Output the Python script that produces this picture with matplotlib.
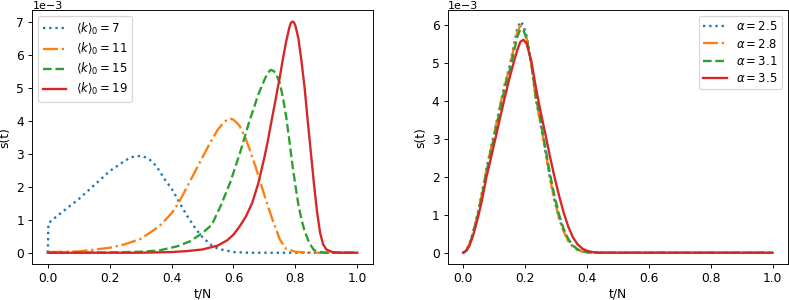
import matplotlib
matplotlib.use("Agg")
import matplotlib.pyplot as plt
import matplotlib.transforms as mtransforms
import numpy as np

# ---------------- Left panel data (values in units of 1e-3) ----------------
k_labels = [r'$\langle k\rangle_0=7$', r'$\langle k\rangle_0=11$',
            r'$\langle k\rangle_0=15$', r'$\langle k\rangle_0=19$']

t_k7 = [0, 0.002, 0.04, 0.1, 0.15, 0.2, 0.25, 0.27, 0.29, 0.31, 0.33, 0.35, 0.38, 0.4,
        0.43, 0.45, 0.48, 0.5, 0.53, 0.55, 0.6, 0.65, 0.7, 1.0]
s_k7 = [0, 0.9, 1.19, 1.63, 2.05, 2.48, 2.8, 2.9, 2.94, 2.92, 2.82, 2.64, 2.2, 1.95,
        1.45, 1.12, 0.7, 0.47, 0.22, 0.12, 0.02, 0.0, 0.0, 0.0]

t_k11 = [0, 0.1, 0.2, 0.25, 0.3, 0.36, 0.4, 0.425, 0.45, 0.475, 0.5, 0.525, 0.55, 0.57,
         0.58, 0.59, 0.6, 0.61, 0.62, 0.63, 0.64, 0.65, 0.67, 0.69, 0.71, 0.73, 0.75,
         0.77, 0.8, 0.85, 1.0]
s_k11 = [0.02, 0.04, 0.15, 0.26, 0.42, 0.8, 1.2, 1.55, 2.0, 2.45, 2.9, 3.35, 3.75, 3.97,
         4.04, 4.07, 4.04, 3.95, 3.85, 3.65, 3.45, 3.2, 2.65, 2.05, 1.45, 0.9, 0.4,
         0.12, 0.03, 0.0, 0.0]

t_k15 = [0, 0.2, 0.3, 0.36, 0.42, 0.46, 0.5, 0.53, 0.56, 0.59, 0.62, 0.65, 0.68, 0.7,
         0.71, 0.72, 0.73, 0.74, 0.75, 0.76, 0.77, 0.78, 0.79, 0.8, 0.81, 0.82, 0.83,
         0.845, 0.86, 0.88, 0.9, 1.0]
s_k15 = [0, 0.01, 0.03, 0.07, 0.2, 0.35, 0.6, 0.85, 1.45, 2.15, 3.0, 3.95, 4.8, 5.25,
         5.45, 5.55, 5.52, 5.38, 5.15, 4.7, 4.15, 3.45, 2.7, 2.05, 1.45, 1.0, 0.65,
         0.3, 0.08, 0.02, 0.0, 0.0]

t_k19 = [0, 0.3, 0.4, 0.45, 0.5, 0.55, 0.58, 0.6, 0.62, 0.64, 0.66, 0.68, 0.7, 0.71,
         0.72, 0.73, 0.74, 0.75, 0.76, 0.77, 0.78, 0.785, 0.79, 0.795, 0.8, 0.81, 0.82,
         0.83, 0.84, 0.85, 0.86, 0.87, 0.88, 0.89, 0.9, 0.92, 0.95, 1.0]
s_k19 = [0, 0.0, 0.02, 0.05, 0.1, 0.22, 0.38, 0.55, 0.8, 1.1, 1.5, 2.1, 2.9, 3.35,
         3.85, 4.35, 4.85, 5.35, 5.9, 6.4, 6.82, 6.97, 7.02, 7.0, 6.9, 6.5, 5.8,
         5.0, 4.0, 3.05, 2.1, 1.25, 0.6, 0.25, 0.1, 0.02, 0.0, 0.0]

# ---------------- Right panel data (values in units of 1e-3) ----------------
a_labels = [r'$\alpha=2.5$', r'$\alpha=2.8$', r'$\alpha=3.1$', r'$\alpha=3.5$']

t_a = [0, 0.01, 0.02, 0.03, 0.04, 0.05, 0.06, 0.075, 0.09, 0.105, 0.12, 0.135, 0.15,
       0.165, 0.175, 0.185, 0.195, 0.205, 0.22, 0.235, 0.25, 0.265, 0.28, 0.295, 0.31,
       0.325, 0.34, 0.355, 0.37, 0.385, 0.4, 0.42, 0.44, 0.46, 1.0]
s_a25 = [0, 0.06, 0.22, 0.48, 0.8, 1.15, 1.55, 2.2, 2.78, 3.32, 3.9, 4.45, 4.9,
         5.5, 5.9, 6.08, 5.98, 5.7, 5.0, 4.05, 3.4, 2.7, 1.98, 1.38, 0.9,
         0.55, 0.31, 0.16, 0.075, 0.032, 0.012, 0.003, 0, 0, 0]
s_a28 = [0, 0.06, 0.22, 0.47, 0.78, 1.12, 1.52, 2.17, 2.75, 3.3, 3.88, 4.42, 4.85,
         5.42, 5.8, 5.98, 5.9, 5.65, 4.98, 4.05, 3.42, 2.72, 2.0, 1.4, 0.92,
         0.56, 0.32, 0.17, 0.08, 0.034, 0.013, 0.003, 0, 0, 0]
s_a31 = [0, 0.055, 0.21, 0.45, 0.75, 1.08, 1.47, 2.1, 2.68, 3.22, 3.8, 4.35, 4.78,
         5.32, 5.68, 5.88, 5.85, 5.62, 5.0, 4.1, 3.48, 2.8, 2.1, 1.5, 1.0,
         0.62, 0.36, 0.19, 0.09, 0.04, 0.015, 0.004, 0.001, 0, 0]
s_a35 = [0, 0.05, 0.18, 0.4, 0.68, 1.0, 1.35, 1.98, 2.5, 3.03, 3.57, 4.1, 4.6,
         5.05, 5.33, 5.55, 5.6, 5.5, 5.05, 4.35, 3.72, 3.15, 2.55, 2.0, 1.5,
         1.05, 0.68, 0.4, 0.22, 0.11, 0.05, 0.015, 0.004, 0, 0]

scale = 1e-3
colors = ['#1f77b4', '#ff7f0e', '#2ca02c', '#d62728']
styles = [':', '-.', '--', '-']
lw = 2

DPI = 84
fig = plt.figure(figsize=(789 / DPI, 300 / DPI), dpi=DPI)
ax1 = fig.add_axes([0.041, 0.119, 0.4314, 0.8477])
ax2 = fig.add_axes([0.5674, 0.119, 0.4314, 0.8477])

left_series = [(t_k7, s_k7), (t_k11, s_k11), (t_k15, s_k15), (t_k19, s_k19)]
for (t, s), c, ls, lab in zip(left_series, colors, styles, k_labels):
    ax1.plot(t, np.array(s) * scale, color=c, linestyle=ls, linewidth=lw, label=lab)

right_series = [s_a25, s_a28, s_a31, s_a35]
for s, c, ls, lab in zip(right_series, colors, styles, a_labels):
    ax2.plot(t_a, np.array(s) * scale, color=c, linestyle=ls, linewidth=lw, label=lab)

for ax in (ax1, ax2):
    ax.set_xlabel('t/N', fontsize=10.5, labelpad=1.5)
    ax.set_ylabel('s(t)', fontsize=10.5)
    ax.ticklabel_format(style='sci', axis='y', scilimits=(0, 0))
    ax.set_xticks([0.0, 0.2, 0.4, 0.6, 0.8, 1.0])
    ax.tick_params(labelsize=10.5)
    off = ax.yaxis.get_offset_text()
    off.set_fontsize(9.5)
    off.set_transform(off.get_transform() +
                      mtransforms.ScaledTranslation(0, -2.5 / DPI, fig.dpi_scale_trans))

ax1.legend(loc='upper left', labelspacing=0.35)
ax2.legend(loc='upper right', labelspacing=0.35)

fig.savefig('out.png', dpi=DPI)
